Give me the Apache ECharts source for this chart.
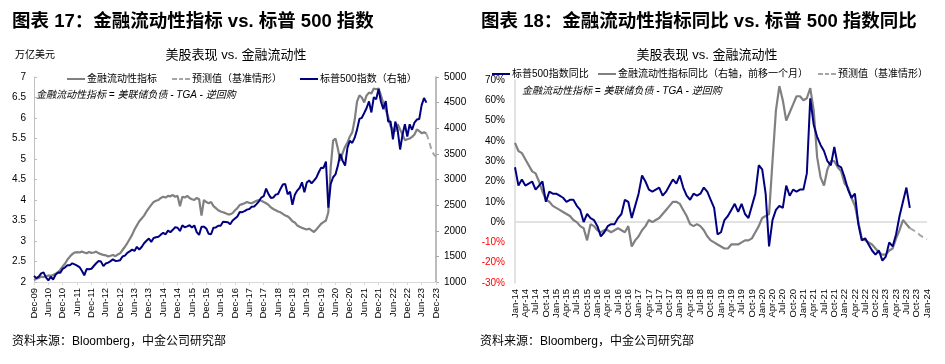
<!DOCTYPE html>
<html><head><meta charset="utf-8">
<script src="https://cdn.jsdelivr.net/npm/echarts@6/dist/echarts.min.js"></script>
<style>html,body{margin:0;padding:0;background:#fff}#c{width:945px;height:364px}</style>
</head><body><div id="c"></div>
<script>
// ================= DATA =================
const MONTHS = ['Jan','Feb','Mar','Apr','May','Jun','Jul','Aug','Sep','Oct','Nov','Dec'];
function monthLabels(y, m, n) { // y: full year, m: 0-based month
  const out = [];
  for (let i = 0; i < n; i++) {
    const mm = (m + i) % 12, yy = y + Math.floor((m + i) / 12);
    out.push(MONTHS[mm] + '-' + String(yy % 100).padStart(2, '0'));
  }
  return out;
}
// Left chart: monthly, Dec-09 .. Dec-23
const leftCategories = monthLabels(2009, 11, 169);
// Right chart: monthly, Jan-14 .. Jan-24
const rightCategories = monthLabels(2014, 0, 121);

// Financial liquidity (trn USD), Dec-09 .. Aug-23
const liquidity = [2.05,
  2.08,2.10,2.13,2.12,2.14,2.16,2.15,2.17,2.20,2.24,2.30,2.38,
  2.45,2.55,2.62,2.68,2.72,2.73,2.72,2.74,2.72,2.70,2.73,2.71,
  2.72,2.74,2.70,2.68,2.66,2.65,2.62,2.64,2.66,2.63,2.67,2.70,
  2.78,2.86,2.95,3.05,3.15,3.28,3.38,3.48,3.55,3.62,3.72,3.80,
  3.88,3.95,3.98,4.00,4.05,4.08,4.06,4.10,4.09,4.12,4.08,4.10,
  3.85,4.08,4.06,4.10,4.05,4.02,4.00,4.05,4.02,3.62,4.00,3.95,
  3.92,3.95,3.85,3.80,3.75,3.72,3.70,3.68,3.65,3.65,3.68,3.75,
  3.80,3.88,3.90,3.92,3.95,3.93,3.92,3.95,3.98,4.00,3.98,3.95,
  3.92,3.88,3.82,3.78,3.75,3.72,3.70,3.66,3.62,3.60,3.55,3.48,
  3.45,3.38,3.35,3.32,3.30,3.28,3.30,3.26,3.22,3.28,3.35,3.42,
  3.46,3.50,3.70,4.80,5.45,5.50,5.25,4.95,5.15,5.30,5.40,5.55,
  5.65,5.95,6.40,6.55,6.50,6.38,6.55,6.62,6.60,6.72,6.70,6.72,
  6.55,6.36,6.20,6.03,5.80,5.72,5.67,5.85,5.72,5.60,5.46,5.48,
  5.50,5.54,5.60,5.72,5.68,5.63,5.65,5.62];
// Forecast (base case), Aug-23 .. Dec-23
const liquidityForecastStart = 'Aug-23';
const liquidityForecast = [5.62,5.45,5.25,5.12,5.05];

// S&P 500 index, Dec-09 .. Aug-23
const spx = [1115,
  1074,1104,1169,1187,1089,1031,1102,1049,1141,1183,1181,1258,
  1286,1327,1326,1364,1345,1321,1292,1219,1131,1253,1247,1258,
  1312,1366,1408,1398,1310,1362,1379,1407,1441,1412,1416,1426,
  1498,1515,1569,1598,1631,1606,1686,1633,1682,1757,1806,1848,
  1783,1859,1872,1884,1924,1960,1931,2003,1972,2018,2068,2059,
  1995,2105,2068,2086,2107,2063,2104,1972,1920,2079,2080,2044,
  1940,1932,2060,2065,2097,2099,2174,2171,2168,2126,2199,2239,
  2279,2364,2363,2384,2412,2423,2470,2472,2519,2575,2648,2674,
  2824,2714,2641,2648,2705,2718,2816,2902,2914,2712,2760,2507,
  2704,2784,2834,2946,2752,2942,2980,2926,2977,3038,3141,3231,
  3226,3350,2450,2912,3044,3100,3271,3500,3363,3270,3622,3756,
  3714,3811,3973,4181,4204,4298,4395,4523,4308,4605,4567,4766,
  4516,4374,4530,4132,4132,3785,4130,3955,3586,3872,4080,3840,
  4077,3970,4109,4169,4180,4450,4589,4500];

// S&P 500 YoY (%), Jan-14 .. Aug-23
const spxYoY = [
  27,18,21,18,19,20,16,18,20,10,15,14,
  14,13,12,10,11,11,8,6,0,4,2,1,
  -2,-7,-5,-2,-1,-1,2,4,11,10,2,8,
  14,23,20,16,15,16,17,13,15,18,21,19,
  23,17,13,11,14,13,14,17,15,11,7,-6,
  -5,1,3,6,9,5,9,4,2,8,14,28,
  26,14,-12,1,6,8,7,18,13,16,15,16,
  16,24,61,48,42,38,35,30,28,37,28,27,
  22,16,12,14,-1,-9,-8,-11,-14,-16,-14,-19,
  -17,-10,-12,-6,3,10,17,7];
// Financial liquidity YoY (%), shifted forward one month, Jan-14 .. Aug-23
const liqYoY = [
  39,35,34,31,28,25,24,20,15,11,10,8,
  7,6,5,4,3,1,0,-2,-3,-9,-1,-2,
  -4,-5,-4,-4,-5,-4,-3,-4,-5,-2,-12,-9,
  -7,-4,-2,1,0,1,2,4,6,8,10,10,
  9,6,3,-1,-2,-1,-2,-4,-7,-9,-10,-11,
  -12,-13,-13,-11,-11,-11,-10,-9,-9,-8,-5,-2,
  2,3,4,30,55,67,60,50,54,58,62,62,
  60,61,66,55,32,22,18,26,30,30,27,25,
  19,17,12,8,0,-8,-9,-10,-11,-13,-15,-16,
  -16,-14,-13,-8,-4,1,-1,-3];
// Forecast YoY (base case), Aug-23 .. Jan-24
const liqYoYForecastStart = 'Aug-23';
const liqYoYForecast = [-3,-4,-5,-6.5,-7.5,-8.5];

// ================= BUILD =================
function pad(cats, start, arr) {
  const i0 = cats.indexOf(start);
  return cats.map((c, i) => (i >= i0 && i - i0 < arr.length) ? arr[i - i0] : null);
}
const FONT = '"Liberation Sans","Noto Sans CJK SC",sans-serif';
const BLUE = '#000080', GRAY = '#808080', DGRAY = '#A6A6A6';
const SOLID_ICON = 'path://M0,0H18V2H0Z';
const DASH_ICON = 'path://M0,0H5V2H0Z M7,0H11V2H7Z M13,0H18V2H13Z';

function txt(x, y, text, size, opts) {
  opts = opts || {};
  return {
    type: 'text', x: x, y: y, silent: true,
    style: {
      text: text, fill: opts.color || '#000',
      font: (opts.style || '') + ' ' + (opts.weight || 'normal') + ' ' + size + 'px ' + FONT,
      align: opts.align || 'left', textAlign: opts.align || 'left',
      verticalAlign: 'middle', textVerticalAlign: 'middle'
    }
  };
}
function legend(name, left, cy, icon) {
  return {
    data: [{ name: name, icon: icon }], left: left, top: cy - 1, itemWidth: 18, itemHeight: 2, itemGap: 0,
    padding: 0, selectedMode: false,
    textStyle: { fontSize: 10, color: '#000', fontFamily: FONT, padding: [0, 0, 0, -3] }
  };
}

const chart = echarts.init(document.getElementById('c'), null, { renderer: 'canvas' });
chart.setOption({
  animation: false,
  backgroundColor: '#fff',
  textStyle: { fontFamily: FONT },
  graphic: [
    txt(12, 22, '图表 17：金融流动性指标 vs. 标普 500 指数', 18.5, { weight: 'bold' }),
    txt(481, 22, '图表 18：金融流动性指标同比 vs. 标普 500 指数同比', 18.5, { weight: 'bold' }),
    txt(236, 55, '美股表现 vs. 金融流动性', 13, { align: 'center' }),
    txt(707, 55, '美股表现 vs. 金融流动性', 13, { align: 'center' }),
    txt(15, 55, '万亿美元', 10),
    txt(36, 95, '金融流动性指标 = 美联储负债 - TGA - 逆回购', 10, { style: 'italic' }),
    txt(522, 91, '金融流动性指标 = 美联储负债 - TGA - 逆回购', 10, { style: 'italic' }),
    txt(12, 342, '资料来源：Bloomberg，中金公司研究部', 12),
    txt(480, 342, '资料来源：Bloomberg，中金公司研究部', 12)
  ],
  legend: [
    legend('金融流动性指标', 67, 75, SOLID_ICON),
    legend('预测值（基准情形）', 172, 75, DASH_ICON),
    legend('标普500指数（右轴）', 300, 75, SOLID_ICON),
    legend('标普500指数同比', 492, 70, SOLID_ICON),
    legend('金融流动性指标同比（右轴，前移一个月）', 598, 70, SOLID_ICON),
    legend('预测值（基准情形）', 818, 70, DASH_ICON)
  ],
  grid: [
    { left: 34, top: 77, width: 402, height: 205 },
    { left: 515, top: 80, width: 412, height: 203 }
  ],
  xAxis: [
    {
      gridIndex: 0, type: 'category', data: leftCategories, boundaryGap: false,
      axisLine: { lineStyle: { color: '#D9D9D9', width: 1 } },
      axisTick: { interval: 5, length: 3, lineStyle: { color: '#D9D9D9' } },
      axisLabel: { interval: 5, rotate: 90, fontSize: 9.5, color: '#000', margin: 6, fontFamily: FONT },
      splitLine: { show: false }
    },
    {
      gridIndex: 1, type: 'category', data: rightCategories, boundaryGap: false,
      axisLine: { show: false },
      axisTick: { show: false },
      axisLabel: { interval: 2, rotate: 90, fontSize: 9.5, color: '#000', margin: 6, fontFamily: FONT },
      splitLine: { show: false }
    }
  ],
  yAxis: [
    {
      gridIndex: 0, type: 'value', position: 'left', min: 2, max: 7, interval: 0.5,
      axisLine: { show: true, lineStyle: { color: '#BFBFBF' } },
      axisTick: { show: true, inside: true, length: 3, lineStyle: { color: '#BFBFBF' } },
      axisLabel: { fontSize: 10, color: '#000', margin: 8, fontFamily: FONT },
      splitLine: { show: false }
    },
    {
      gridIndex: 0, type: 'value', position: 'right', min: 1000, max: 5000, interval: 500,
      axisLine: { show: true, lineStyle: { color: '#A6A6A6', width: 1.5 } },
      axisTick: { show: true, length: 3, lineStyle: { color: '#A6A6A6' } },
      axisLabel: { fontSize: 10, color: '#000', margin: 8, fontFamily: FONT,
        formatter: function (v) { return String(v); } },
      splitLine: { show: false }
    },
    {
      gridIndex: 1, type: 'value', position: 'left', min: -30, max: 70, interval: 10,
      axisLine: { show: true, lineStyle: { color: '#D9D9D9', width: 1.5 } },
      axisTick: { show: false },
      axisLabel: {
        fontSize: 10, margin: 10, fontFamily: FONT, formatter: '{value}%',
        color: function (v) { return Number(v) < 0 ? '#FF0000' : '#000'; }
      },
      splitLine: { show: false }
    }
  ],
  series: [
    {
      name: '金融流动性指标', type: 'line', xAxisIndex: 0, yAxisIndex: 0,
      data: liquidity, showSymbol: false, symbol: 'none', z: 2,
      lineStyle: { color: GRAY, width: 2.2 }, itemStyle: { color: GRAY }
    },
    {
      name: '预测值（基准情形）', type: 'line', xAxisIndex: 0, yAxisIndex: 0,
      data: pad(leftCategories, liquidityForecastStart, liquidityForecast),
      showSymbol: false, symbol: 'none', z: 2,
      lineStyle: { color: DGRAY, width: 2, type: [6, 4] }, itemStyle: { color: DGRAY }
    },
    {
      name: '标普500指数（右轴）', type: 'line', xAxisIndex: 0, yAxisIndex: 1,
      data: spx, showSymbol: false, symbol: 'none', z: 3,
      lineStyle: { color: BLUE, width: 2 }, itemStyle: { color: BLUE }
    },
    {
      name: '金融流动性指标同比（右轴，前移一个月）', type: 'line', xAxisIndex: 1, yAxisIndex: 2,
      data: liqYoY, showSymbol: false, symbol: 'none', z: 2,
      lineStyle: { color: GRAY, width: 2.2 }, itemStyle: { color: GRAY },
      markLine: {
        silent: true, symbol: 'none', label: { show: false },
        lineStyle: { color: '#D9D9D9', width: 1.5, type: 'solid' },
        data: [{ yAxis: 0 }], z: 1
      }
    },
    {
      name: '预测值（基准情形）', type: 'line', xAxisIndex: 1, yAxisIndex: 2,
      data: pad(rightCategories, liqYoYForecastStart, liqYoYForecast),
      showSymbol: false, symbol: 'none', z: 2,
      lineStyle: { color: DGRAY, width: 2, type: [6, 4] }, itemStyle: { color: DGRAY }
    },
    {
      name: '标普500指数同比', type: 'line', xAxisIndex: 1, yAxisIndex: 2,
      data: spxYoY, showSymbol: false, symbol: 'none', z: 3,
      lineStyle: { color: BLUE, width: 2 }, itemStyle: { color: BLUE }
    }
  ]
});
</script>
</body></html>
